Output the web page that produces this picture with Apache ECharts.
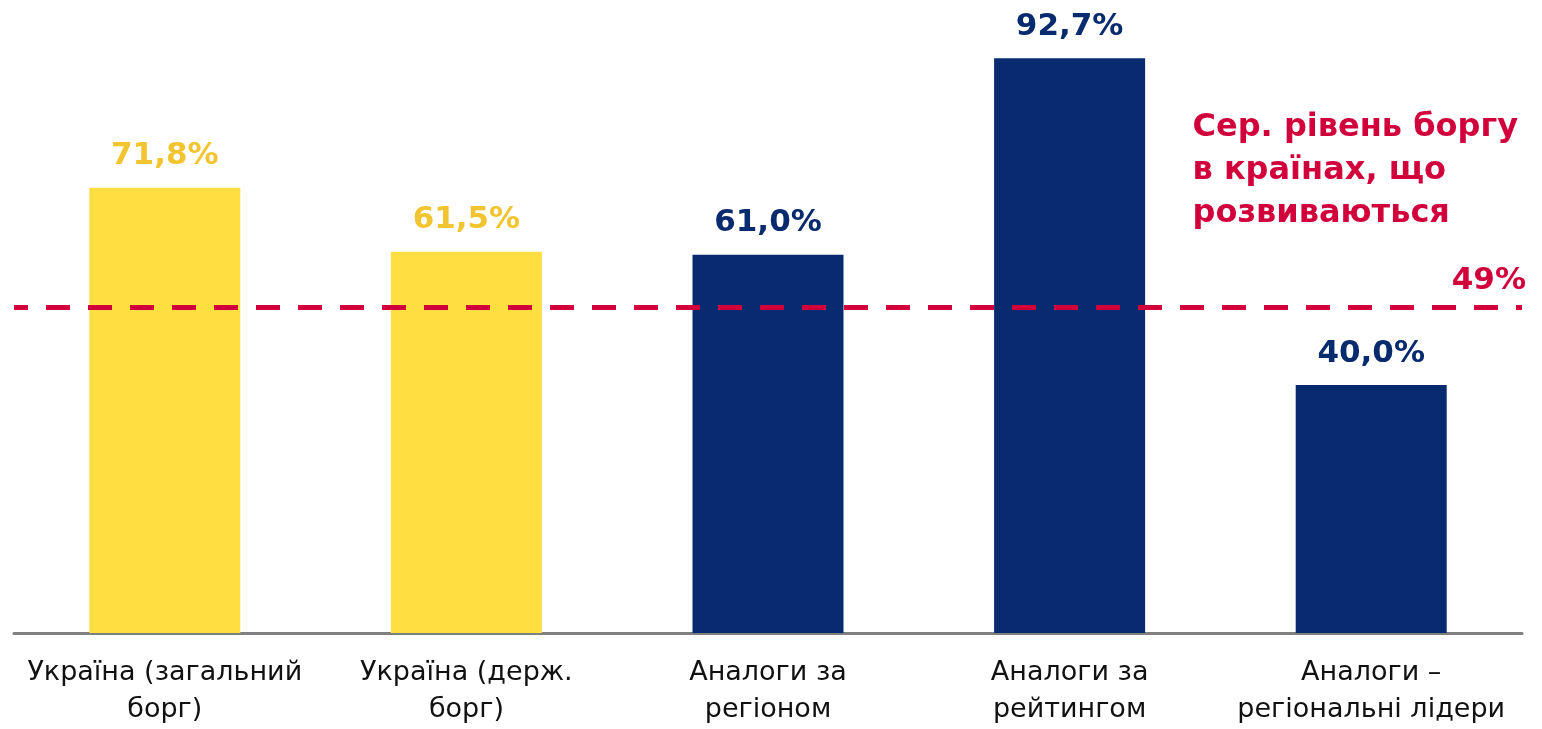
<!DOCTYPE html>
<html>
<head>
<meta charset="utf-8">
<script src="https://cdn.jsdelivr.net/npm/echarts@6/dist/echarts.min.js"></script>
<style>
  html, body { margin: 0; padding: 0; background: #fff; }
  #main { width: 1542px; height: 729px; }
</style>
</head>
<body>
<div id="main"></div>
<script>
// дані
var categories = ['Україна (загальний\nборг)', 'Україна (держ.\nборг)', 'Аналоги за\nрегіоном', 'Аналоги за\nрейтингом', 'Аналоги –\nрегіональні лідери'];
var debtValues = [71.8, 61.5, 61.0, 92.7, 40.0];
var isUkraine = [true, true, false, false, false];
var avgLine = 52.6;      // положення лінії, як на малюнку
var avgLabel = '49%';
var avgTitle = 'Сер. рівень боргу\nв країнах, що\nрозвиваються';

var YELLOW = '#FEDE40', YELLOW_TXT = '#F2C530';
var NAVY = '#072B6E', RED = '#D1003A';
var FONT = 'DejaVu Sans';

var chart = echarts.init(document.getElementById('main'));

var barData = debtValues.map(function (v, i) {
  return {
    value: v,
    itemStyle: { color: isUkraine[i] ? YELLOW : NAVY },
    label: { color: isUkraine[i] ? YELLOW_TXT : NAVY }
  };
});

chart.setOption({
  animation: false,
  textStyle: { fontFamily: FONT },
  grid: { left: 14, right: 20, top: 13, bottom: 96 },
  xAxis: {
    type: 'category',
    data: categories,
    axisTick: { show: false },
    axisLine: { lineStyle: { color: '#808080', width: 3 } },
    axisLabel: {
      fontFamily: FONT,
      fontSize: 27,
      color: '#111',
      lineHeight: 37,
      margin: 21,
      interval: 0
    }
  },
  yAxis: {
    type: 'value',
    min: 0,
    max: 100,
    show: false,
    splitLine: { show: false }
  },
  series: [{
    type: 'bar',
    data: barData,
    barWidth: 151,
    label: {
      show: true,
      position: 'top',
      distance: 16,
      fontFamily: FONT,
      fontWeight: 'bold',
      fontSize: 31,
      formatter: function (p) { return p.value.toFixed(1).replace('.', ',') + '%'; }
    },
    markLine: {
      silent: true,
      symbol: 'none',
      lineStyle: { color: RED, width: 5, type: [24, 18], dashOffset: 10 },
      label: {
        show: true,
        position: 'insideEndTop',
        formatter: avgLabel,
        color: RED,
        fontFamily: FONT,
        fontWeight: 'bold',
        fontSize: 31,
        distance: [-4, 10]
      },
      data: [{ yAxis: avgLine }]
    }
  }],
  graphic: [{
    type: 'text',
    right: 24,
    top: 106,
    style: {
      text: avgTitle,
      fill: RED,
      fontFamily: FONT,
      fontWeight: 'bold',
      fontSize: 32,
      align: 'right',
      lineHeight: 43
    }
  }]
});
</script>
</body>
</html>
